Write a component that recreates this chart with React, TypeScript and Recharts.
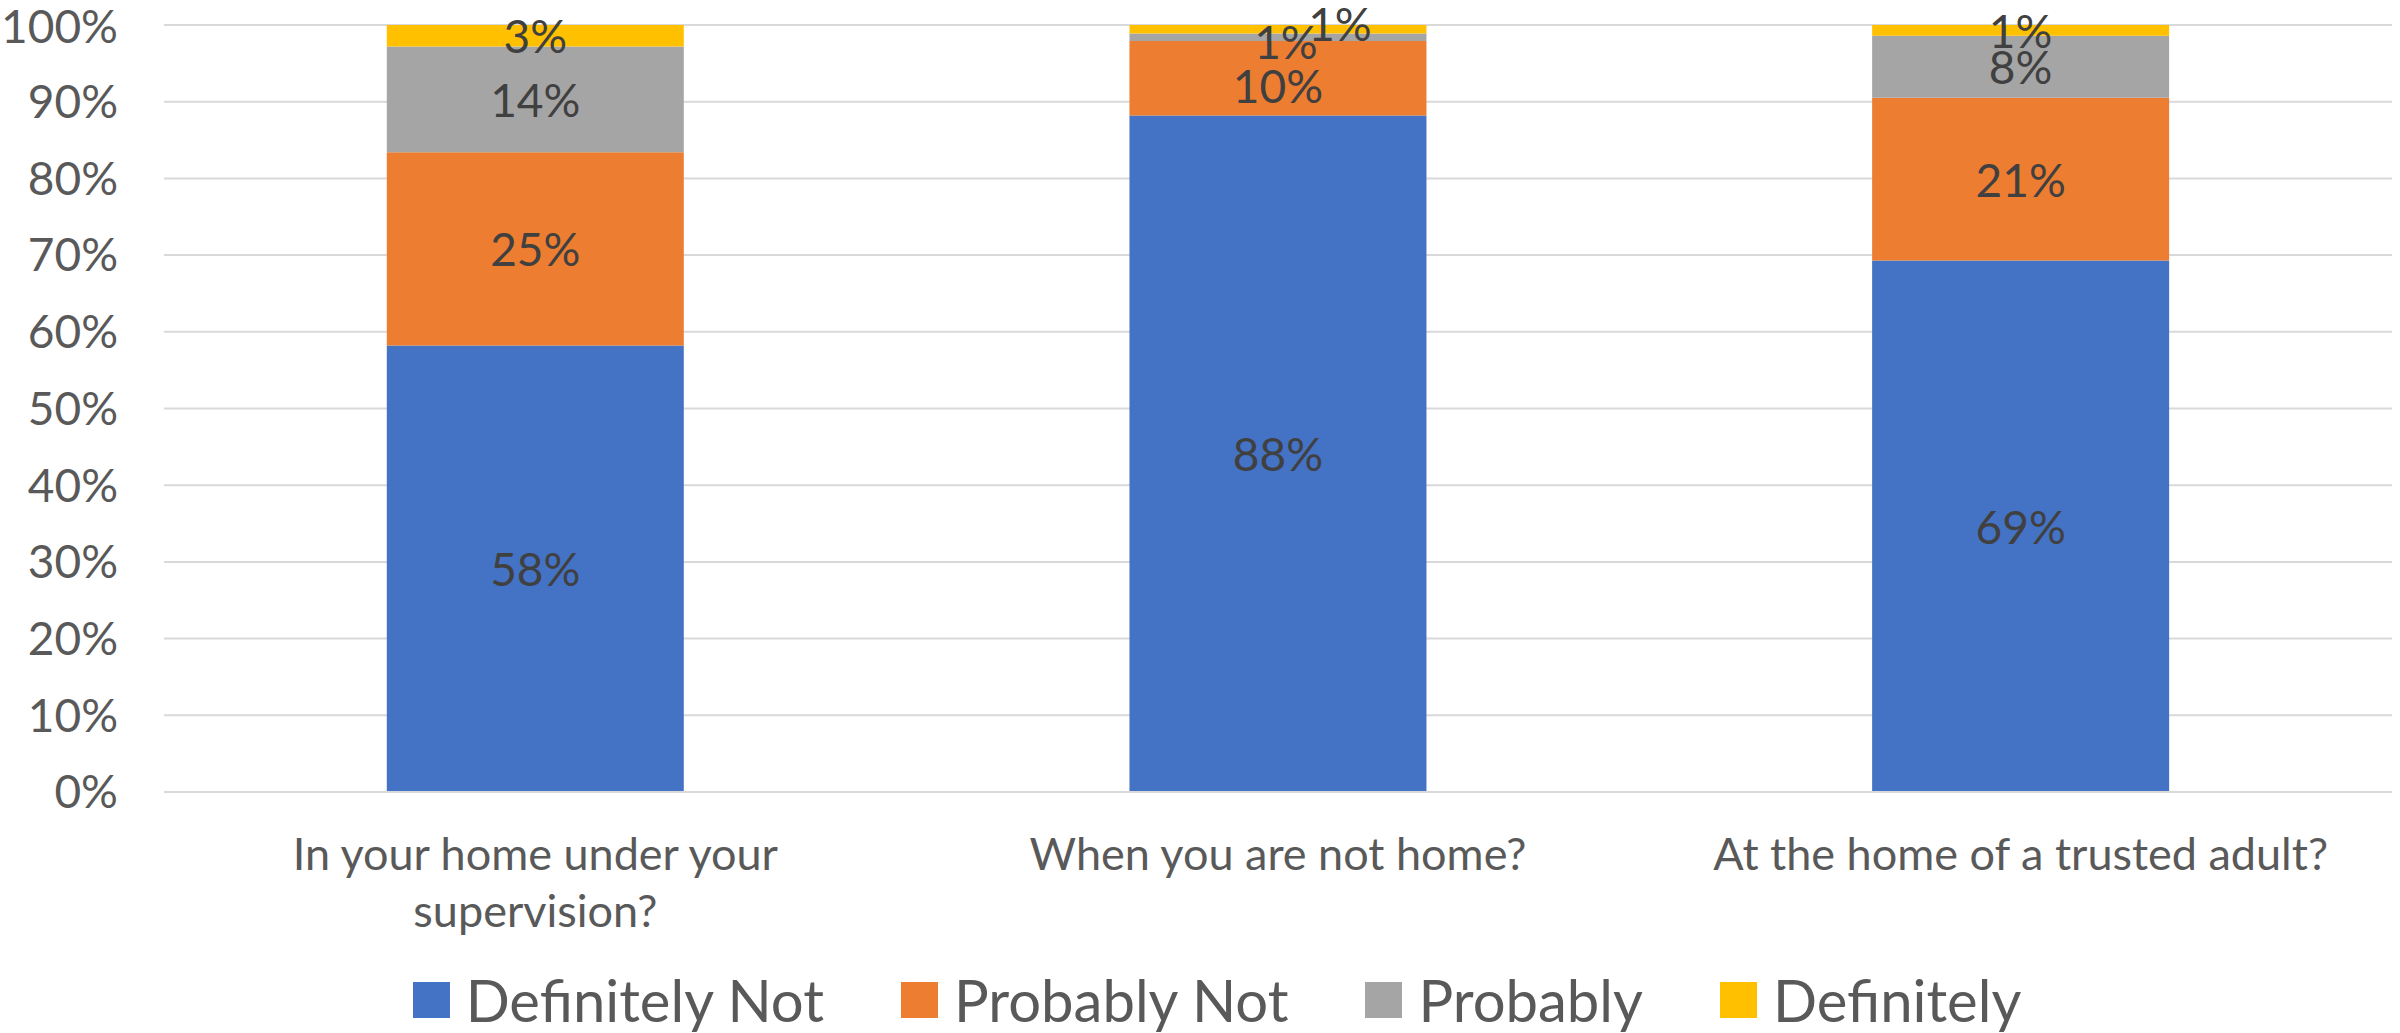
import { BarChart, Bar, XAxis, YAxis, CartesianGrid, Legend, LabelList } from "recharts";

const categories = [
  "In your home under your supervision?",
  "When you are not home?",
  "At the home of a trusted adult?",
];
const definitelyNot = [58.2, 88.2, 69.3];
const probablyNot = [25.2, 9.7, 21.2];
const probably = [13.8, 1.0, 8.1];
const definitely = [2.8, 1.1, 1.4];
const yTicks = [0, 10, 20, 30, 40, 50, 60, 70, 80, 90, 100];

const series = [
  { key: "definitelyNot", name: "Definitely Not", color: "#4472C4" },
  { key: "probablyNot", name: "Probably Not", color: "#ED7D31" },
  { key: "probably", name: "Probably", color: "#A5A5A5" },
  { key: "definitely", name: "Definitely", color: "#FFC000" },
];

const data = categories.map((name, i) => ({
  name,
  definitelyNot: definitelyNot[i],
  probablyNot: probablyNot[i],
  probably: probably[i],
  definitely: definitely[i],
}));

const FONT = "Lato, 'Open Sans', sans-serif";

// hand-moved labels on the thin segments of the middle bar
const nudge: Record<string, Record<number, [number, number]>> = {
  probablyNot: { 1: [0, 7] },
  probably: { 1: [8, 4] },
  definitely: { 1: [62, -6] },
};

function makeLabel(key: string) {
  return (props: any) => {
    const { x, y, width, height, value, index } = props;
    const [dx, dy] = nudge[key]?.[index] ?? [0, 0];
    return (
      <text
        x={x + width / 2 + dx}
        y={y + height / 2 + dy}
        textAnchor="middle"
        dominantBaseline="central"
        fontSize={46}
        fontFamily={FONT}
        fill="#404040"
      >
        {Math.round(value)}%
      </text>
    );
  };
}

let ctx: CanvasRenderingContext2D | null = null;
function wrapWords(text: string, maxWidth: number, font: string) {
  if (!ctx) ctx = document.createElement("canvas").getContext("2d");
  ctx!.font = font;
  const lines: string[] = [];
  let cur = "";
  for (const w of text.split(" ")) {
    const next = cur ? cur + " " + w : w;
    if (cur && ctx!.measureText(next).width > maxWidth) {
      lines.push(cur);
      cur = w;
    } else cur = next;
  }
  if (cur) lines.push(cur);
  return lines;
}

function CategoryTick(props: any) {
  const { x, y, payload } = props;
  const lines = wrapWords(payload.value, 680, `45px ${FONT}`);
  return (
    <text x={x} y={y + 76} textAnchor="middle" fontSize={45} fontFamily={FONT} fill="#595959">
      {lines.map((l, i) => (
        <tspan key={i} x={x} dy={i === 0 ? 0 : 57}>
          {l}
        </tspan>
      ))}
    </text>
  );
}

function LegendBox() {
  return (
    <div
      style={{
        display: "flex",
        justifyContent: "center",
        alignItems: "center",
        height: 58,
        paddingLeft: 34,
        fontFamily: FONT,
        fontSize: 58,
        color: "#595959",
      }}
    >
      {series.map((s, i) => (
        <div
          key={s.key}
          style={{ display: "flex", alignItems: "center", marginLeft: i === 0 ? 0 : 77 }}
        >
          <span style={{ width: 37, height: 36, background: s.color, marginRight: 16 }} />
          <span style={{ lineHeight: "58px", whiteSpace: "nowrap" }}>{s.name}</span>
        </div>
      ))}
    </div>
  );
}

export default function App() {
  return (
    <div style={{ position: "absolute", left: 0, top: 0, width: 2400, height: 1033, background: "#fff" }}>
      <BarChart
        width={2400}
        height={1033}
        data={data}
        margin={{ top: 25, right: 8, bottom: 4, left: 0 }}
        barCategoryGap="30%"
      >
        <CartesianGrid vertical={false} stroke="#D9D9D9" strokeWidth={2} />
        <XAxis
          dataKey="name"
          height={179}
          axisLine={{ stroke: "#D9D9D9", strokeWidth: 2 }}
          tickLine={false}
          tickSize={0}
          interval={0}
          tick={<CategoryTick />}
        />
        <YAxis
          width={164}
          domain={[0, 100]}
          ticks={yTicks}
          axisLine={false}
          tickLine={false}
          tickSize={0}
          tickMargin={46}
          tickFormatter={(v) => `${v}%`}
          tick={{ fontSize: 46, fontFamily: FONT, fill: "#595959" }}
        />
        <Legend
          verticalAlign="bottom"
          content={<LegendBox />}
          wrapperStyle={{ left: 0, width: 2400 }}
        />
        {series.map((s) => (
          <Bar key={s.key} dataKey={s.key} name={s.name} stackId="a" fill={s.color} isAnimationActive={false}>
            <LabelList dataKey={s.key} content={makeLabel(s.key)} />
          </Bar>
        ))}
      </BarChart>
    </div>
  );
}
